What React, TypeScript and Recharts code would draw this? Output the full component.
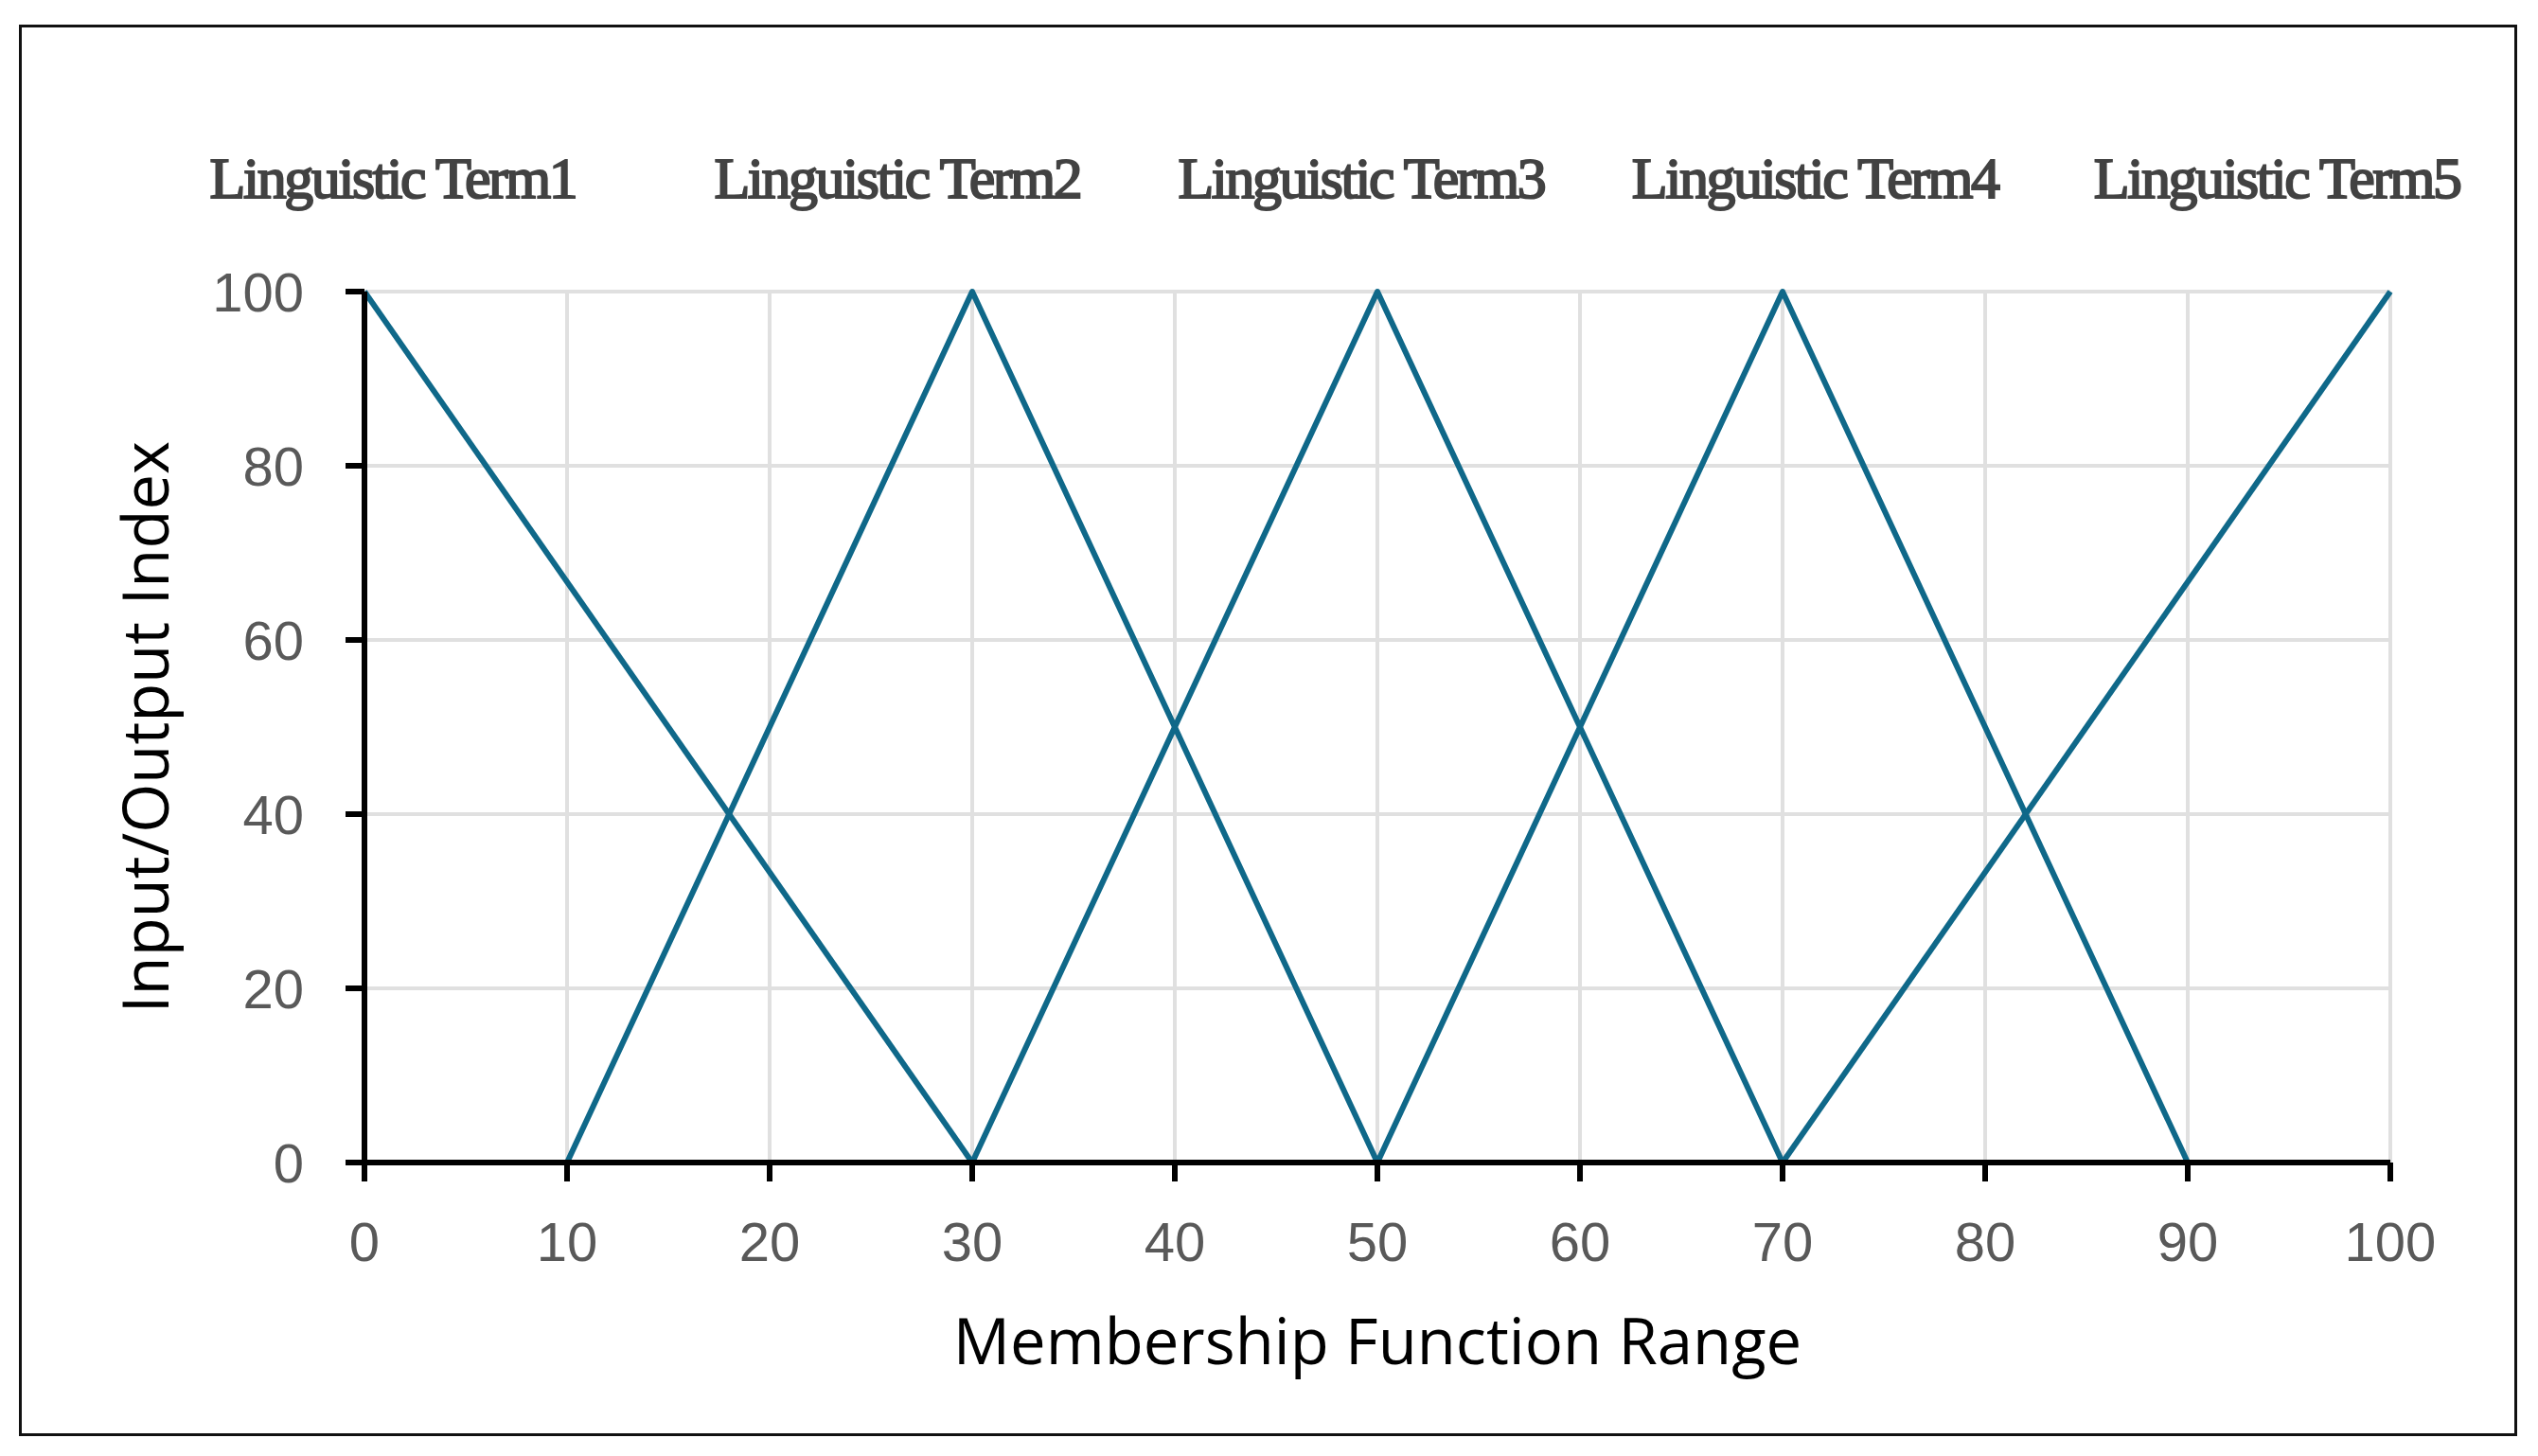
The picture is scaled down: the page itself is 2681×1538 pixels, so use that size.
import { LineChart, Line, XAxis, YAxis, CartesianGrid } from "recharts"

const LINE_COLOR = "#0f6889"

const X_TICKS = [0, 10, 20, 30, 40, 50, 60, 70, 80, 90, 100]
const Y_TICKS = [0, 20, 40, 60, 80, 100]

const TERM_NAMES = [
  "Linguistic Term1",
  "Linguistic Term2",
  "Linguistic Term3",
  "Linguistic Term4",
  "Linguistic Term5",
]
// where each header label is centred, in x units
const TERM_LABEL_X = [1.4, 26.3, 49.2, 71.6, 94.4]

const TERM1 = [{ x: 0, y: 100 }, { x: 30, y: 0 }]
const TERM2 = [{ x: 10, y: 0 }, { x: 30, y: 100 }, { x: 50, y: 0 }]
const TERM3 = [{ x: 30, y: 0 }, { x: 50, y: 100 }, { x: 70, y: 0 }]
const TERM4 = [{ x: 50, y: 0 }, { x: 70, y: 100 }, { x: 90, y: 0 }]
const TERM5 = [{ x: 70, y: 0 }, { x: 100, y: 100 }]

const SERIES = [TERM1, TERM2, TERM3, TERM4, TERM5]

const tickStyle = {
  fontFamily: "'Liberation Sans', Arial, sans-serif",
  fontSize: 58,
  fill: "#595959",
}

const titleStyle = {
  fontFamily: "'Open Sans', sans-serif",
  fontSize: 67,
  fill: "#000000",
}

export default function App() {
  return (
    <div style={{ position: "absolute", left: 0, top: 0, width: 2681, height: 1538, background: "#fff" }}>
      <div
        style={{
          position: "absolute",
          left: 20,
          top: 26,
          width: 2639,
          height: 1491,
          border: "3px solid #111",
          boxSizing: "border-box",
        }}
      />
      <div style={{ position: "absolute", left: 0, top: 0 }}>
        <LineChart
          width={2681}
          height={1538}
          margin={{ top: 158, right: 156, bottom: 0, left: 100 }}
        >
          <CartesianGrid stroke="#e0e0e0" strokeWidth={4} />
          <XAxis
            xAxisId="top"
            orientation="top"
            dataKey="x"
            type="number"
            domain={[0, 100]}
            ticks={TERM_LABEL_X}
            interval={0}
            height={150}
            axisLine={false}
            tickLine={false}
            tickSize={0}
            tickMargin={99}
            tickFormatter={(v: number) => TERM_NAMES[TERM_LABEL_X.indexOf(v)] ?? ""}
            tick={{
              fontFamily: "'Liberation Serif', 'Times New Roman', serif",
              fontSize: 62,
              fontWeight: 400,
              fill: "#424242",
              stroke: "#424242",
              strokeWidth: 2,
              letterSpacing: -2.5,
            }}
          />
          <XAxis
            dataKey="x"
            type="number"
            domain={[0, 100]}
            ticks={X_TICKS}
            interval={0}
            height={310}
            axisLine={{ stroke: "#000", strokeWidth: 6 }}
            tickLine={{ stroke: "#000", strokeWidth: 6 }}
            tickSize={20}
            tickMargin={43}
            tick={tickStyle}
            label={{
              value: "Membership Function Range",
              position: "insideBottom",
              offset: 97,
              ...titleStyle,
            }}
          />
          <YAxis
            type="number"
            domain={[0, 100]}
            ticks={Y_TICKS}
            interval={0}
            width={285}
            axisLine={{ stroke: "#000", strokeWidth: 6 }}
            tickLine={{ stroke: "#000", strokeWidth: 6 }}
            tickSize={20}
            tickMargin={44}
            tick={tickStyle}
            label={{
              value: "Input/Output Index",
              angle: -90,
              position: "insideLeft",
              offset: 54,
              style: { textAnchor: "middle" },
              ...titleStyle,
            }}
          />
          {SERIES.map((data, i) => (
            <Line
              key={TERM_NAMES[i]}
              xAxisId={i === SERIES.length - 1 ? "top" : 0}
              data={data}
              dataKey="y"
              type="linear"
              stroke={LINE_COLOR}
              strokeWidth={6}
              strokeLinejoin="round"
              dot={false}
              activeDot={false}
              isAnimationActive={false}
            />
          ))}
        </LineChart>
      </div>
    </div>
  )
}
